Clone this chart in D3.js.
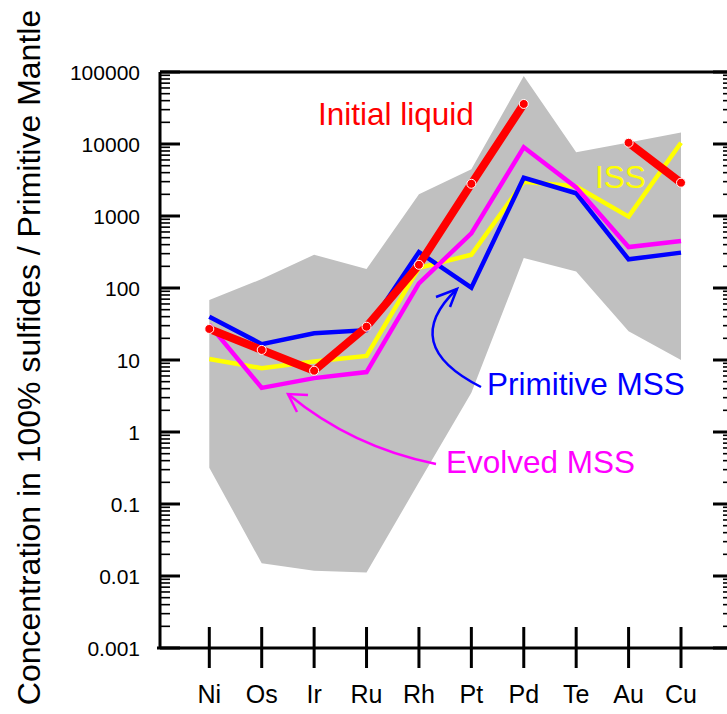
<!DOCTYPE html>
<html>
<head>
<meta charset="utf-8">
<script src="https://cdnjs.cloudflare.com/ajax/libs/d3/7.8.5/d3.min.js"></script>
<style>
  html, body { margin: 0; padding: 0; background: #fff; }
  svg { display: block; font-family: "Liberation Sans", Arial, sans-serif; }
</style>
</head>
<body>
<div id="chart"></div>
<script>
// elements on the x axis
const elements = ["Ni", "Os", "Ir", "Ru", "Rh", "Pt", "Pd", "Te", "Au", "Cu"];

// normalised concentrations (null = no value)
const initialLiquid = [27, 13.8, 7.1, 29, 210, 2800, 36000, null, 10400, 2900];
const primitiveMSS  = [40, 16.6, 23.5, 26, 316, 101, 3400, 2070, 250, 310];
const issValues     = [10.3, 7.7, 9.5, 11.4, 190, 290, 3000, 2570, 980, 10400];
const evolvedMSS    = [31, 4.1, 5.6, 6.8, 116, 575, 9000, 2500, 370, 450];

// grey field (max / min)
const fieldMax = [68, 133, 290, 183, 2000, 4450, 88000, 7700, 10500, 14400];
const fieldMin = [0.32, 0.015, 0.0118, 0.0112, 0.2, 3.5, 260, 170, 25, 10];

const yTickValues = [0.001, 0.01, 0.1, 1, 10, 100, 1000, 10000, 100000];
const yTickLabels = ["0.001", "0.01", "0.1", "1", "10", "100", "1000", "10000", "100000"];

const W = 727, H = 714;
const mLeft = 160, mRight = 733, mTop = 72, mBottom = 648;

const svg = d3.select("#chart").append("svg")
  .attr("width", W).attr("height", H)
  .attr("viewBox", [0, 0, W, H]);

const x = d3.scalePoint().domain(elements).range([209.3, 681]);
const y = d3.scaleLog().domain([0.001, 100000]).range([mBottom, mTop]);

// grey envelope
const area = d3.area()
  .x((d, i) => x(elements[i]))
  .y0((d, i) => y(fieldMin[i]))
  .y1(d => y(d));
svg.append("path")
  .datum(fieldMax)
  .attr("d", area)
  .attr("fill", "#c0c0c0");

// minor + major ticks on left and right axes
const minor = [];
d3.range(-3, 5).forEach(e => {
  for (let k = 2; k <= 9; k++) minor.push(k * Math.pow(10, e));
});
const ticksG = svg.append("g");
ticksG.selectAll(".minL").data(minor).enter().append("line")
  .attr("x1", mLeft).attr("x2", mLeft + 10)
  .attr("y1", d => y(d)).attr("y2", d => y(d))
  .attr("stroke", "#000").attr("stroke-width", 1.6);
ticksG.selectAll(".minR").data(minor).enter().append("line")
  .attr("x1", mRight).attr("x2", mRight - 10)
  .attr("y1", d => y(d)).attr("y2", d => y(d))
  .attr("stroke", "#000").attr("stroke-width", 1.6);
ticksG.selectAll(".majL").data(yTickValues).enter().append("line")
  .attr("x1", mLeft).attr("x2", mLeft + 20)
  .attr("y1", d => y(d)).attr("y2", d => y(d))
  .attr("stroke", "#000").attr("stroke-width", 3);
ticksG.selectAll(".majR").data(yTickValues).enter().append("line")
  .attr("x1", mRight).attr("x2", mRight - 20)
  .attr("y1", d => y(d)).attr("y2", d => y(d))
  .attr("stroke", "#000").attr("stroke-width", 3);

// frame
svg.append("line").attr("x1", mLeft).attr("x2", mLeft).attr("y1", mTop).attr("y2", mBottom)
  .attr("stroke", "#000").attr("stroke-width", 3);
svg.append("line").attr("x1", mLeft).attr("x2", W).attr("y1", mTop).attr("y2", mTop)
  .attr("stroke", "#000").attr("stroke-width", 3);
svg.append("line").attr("x1", mLeft - 3).attr("x2", W).attr("y1", mBottom).attr("y2", mBottom)
  .attr("stroke", "#000").attr("stroke-width", 3);

// x ticks crossing the bottom axis
svg.append("g").selectAll("line").data(elements).enter().append("line")
  .attr("x1", d => x(d)).attr("x2", d => x(d))
  .attr("y1", mBottom - 21).attr("y2", mBottom + 20)
  .attr("stroke", "#000").attr("stroke-width", 3);

// tick labels
svg.append("g").selectAll("text").data(elements).enter().append("text")
  .attr("x", d => x(d)).attr("y", 703)
  .attr("text-anchor", "middle")
  .attr("font-size", 25)
  .text(d => d);
svg.append("g").selectAll("text").data(yTickValues).enter().append("text")
  .attr("x", 140).attr("y", d => y(d))
  .attr("dy", "0.36em")
  .attr("text-anchor", "end")
  .attr("font-size", 21)
  .text((d, i) => yTickLabels[i]);

// y axis title
svg.append("text")
  .attr("transform", "translate(40,357.5) rotate(-90)")
  .attr("text-anchor", "middle")
  .attr("font-size", 32)
  .text("Concentration in 100% sulfides / Primitive Mantle");

// series
function drawLine(vals, color, width) {
  const line = d3.line()
    .defined(d => d != null)
    .x((d, i) => x(elements[i]))
    .y(d => y(d));
  svg.append("path")
    .datum(vals)
    .attr("d", line)
    .attr("fill", "none")
    .attr("stroke", color)
    .attr("stroke-width", width)
    .attr("stroke-linejoin", width > 5 ? "round" : "miter")
    .attr("stroke-linecap", width > 5 ? "round" : "butt");
}
drawLine(issValues, "#ffff00", 4.5);
drawLine(primitiveMSS, "#0000ff", 4.5);
drawLine(evolvedMSS, "#ff00ff", 4.5);
drawLine(initialLiquid, "#ff0000", 8);

svg.append("g").selectAll("circle")
  .data(initialLiquid.map((v, i) => [elements[i], v]).filter(d => d[1] != null))
  .enter().append("circle")
  .attr("cx", d => x(d[0])).attr("cy", d => y(d[1]))
  .attr("r", 4.5)
  .attr("fill", "#ff0000")
  .attr("stroke", "#fff").attr("stroke-width", 1);

// annotations
svg.append("text").attr("x", 318).attr("y", 125).attr("font-size", 31.5)
  .attr("fill", "#ff0000").text("Initial liquid");
svg.append("text").attr("x", 595).attr("y", 188).attr("font-size", 31.5)
  .attr("fill", "#ffff00").text("ISS");
svg.append("text").attr("x", 487).attr("y", 395).attr("font-size", 31.5)
  .attr("fill", "#0000ff").text("Primitive MSS");
svg.append("text").attr("x", 446).attr("y", 473).attr("font-size", 31.5)
  .attr("fill", "#ff00ff").text("Evolved MSS");

// curved arrows
function arrow(pts, head, color) {
  svg.append("path")
    .attr("d", `M${pts[0]}Q${pts[1]} ${pts[2]}`)
    .attr("fill", "none").attr("stroke", color).attr("stroke-width", 2.5);
  svg.append("path")
    .attr("d", `M${head[0]}L${pts[2]}L${head[1]}`)
    .attr("fill", "none").attr("stroke", color).attr("stroke-width", 2.5);
}
arrow([[481, 387], [398, 345], [457, 289]], [[436, 297], [450, 307]], "#0000ff");
arrow([[436, 464], [352, 447], [288, 394]], [[308, 395], [297, 412]], "#ff00ff");
</script>
</body>
</html>
